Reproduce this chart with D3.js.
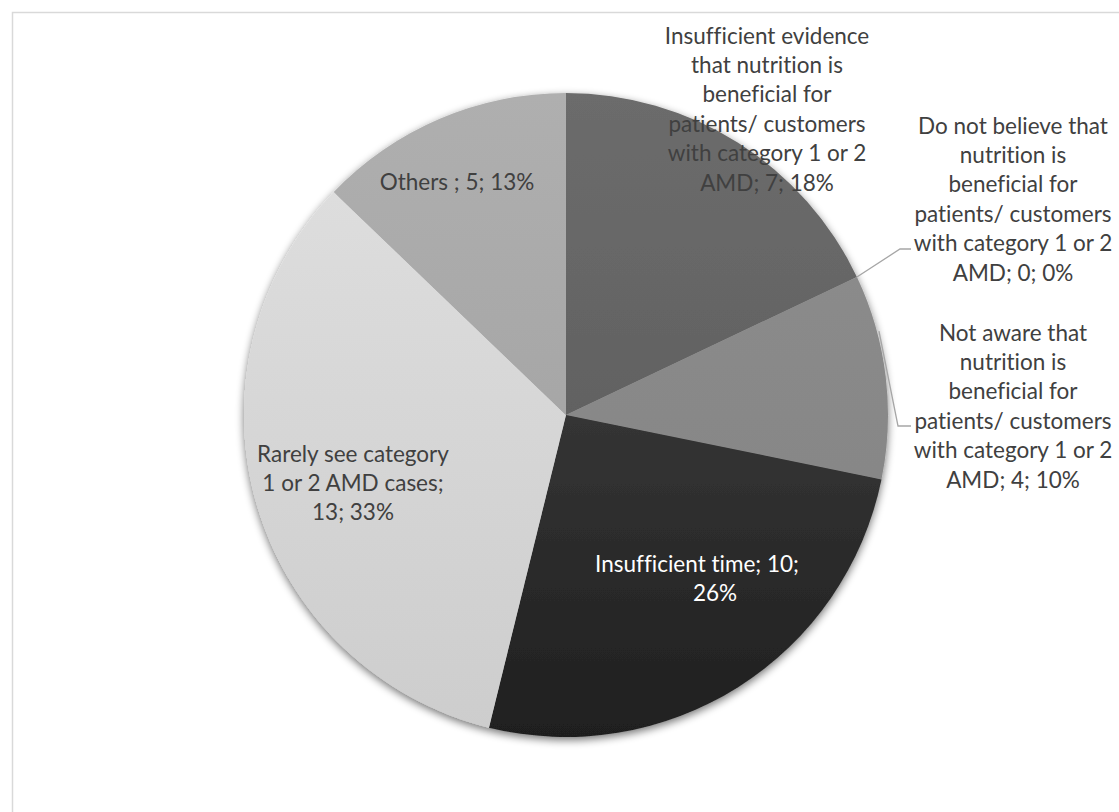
<!DOCTYPE html>
<html>
<head>
<meta charset="utf-8">
<script src="https://cdn.jsdelivr.net/npm/d3@7"></script>
<style>
  html, body { margin: 0; padding: 0; background: #fff; }
  svg { display: block; }
  text { font-variant-ligatures: none; font-feature-settings: "liga" 0, "clig" 0; }
</style>
</head>
<body>
<svg id="chart" width="1119" height="812"></svg>
<script>
// Survey responses: reasons for not giving nutrition advice (category 1 or 2 AMD)
const categories = [
  "Insufficient evidence that nutrition is beneficial for patients/ customers with category 1 or 2 AMD",
  "Do not believe that nutrition is beneficial for patients/ customers with category 1 or 2 AMD",
  "Not aware that nutrition is beneficial for patients/ customers with category 1 or 2 AMD",
  "Insufficient time",
  "Rarely see category 1 or 2 AMD cases",
  "Others "
];
const counts = [7, 0, 4, 10, 13, 5];

// Slice fills: [top, bottom] of a soft vertical gradient
const sliceColors = [
  ["#6c6c6c", "#575757"],
  ["#7a7a7a", "#6a6a6a"],
  ["#8e8e8e", "#828282"],
  ["#4a4a4a", "#1f1f1f"],
  ["#e0e0e0", "#cdcdcd"],
  ["#afafaf", "#9e9e9e"]
];

// Label layout: centre x, first-line y, words per wrapped line, optional per-line x shift
const labelLayout = [
  { x: 767, y: 35, wrap: [2, 3, 2, 2, 5, 3], fill: "#404040" },
  { x: 1013, y: 125, wrap: [4, 2, 2, 2, 5, 3], fill: "#404040" },
  { x: 1013, y: 332, wrap: [3, 2, 2, 2, 5, 3], fill: "#404040" },
  { x: 697, y: 563, wrap: [3, 1], shift: [0, 18], fill: "#ffffff" },
  { x: 353, y: 453, wrap: [3, 5, 2], fill: "#404040" },
  { x: 457, y: 181, wrap: [4], fill: "#404040" }
];

// Leader lines: angle on the rim (degrees from 12 o'clock), elbow and end points
const leaders = [
  { index: 1, angle: null, elbow: [900, 249], end: [911, 249] },
  { index: 2, angle: 75, elbow: [898, 426], end: [911, 426] }
];

const W = 1119, H = 812;
const cx = 566, cy = 415, R = 322;
const lineH = 29.4;

const svg = d3.select("#chart");
const defs = svg.append("defs");

// Chart frame
svg.append("rect")
  .attr("x", 12.5).attr("y", 12.5)
  .attr("width", W + 20).attr("height", H + 20)
  .attr("fill", "#fff")
  .attr("stroke", "#d9d9d9").attr("stroke-width", 1.5);

// Soft outer shadow for the pie
const shadow = defs.append("filter").attr("id", "pieShadow")
  .attr("x", "-10%").attr("y", "-10%").attr("width", "120%").attr("height", "120%");
shadow.append("feGaussianBlur").attr("in", "SourceAlpha").attr("stdDeviation", 4).attr("result", "blur");
shadow.append("feOffset").attr("in", "blur").attr("dx", 0).attr("dy", 3).attr("result", "off");
shadow.append("feComponentTransfer").attr("in", "off").attr("result", "shadowA")
  .append("feFuncA").attr("type", "linear").attr("slope", 0.55);
const merge = shadow.append("feMerge");
merge.append("feMergeNode").attr("in", "shadowA");
merge.append("feMergeNode").attr("in", "SourceGraphic");

// Vertical gradients, in the pie group's coordinate frame (centred on 0,0)
sliceColors.forEach((c, i) => {
  const g = defs.append("linearGradient").attr("id", "grad" + i)
    .attr("gradientUnits", "userSpaceOnUse")
    .attr("x1", 0).attr("y1", -R).attr("x2", 0).attr("y2", R);
  g.append("stop").attr("offset", "0%").attr("stop-color", c[0]);
  g.append("stop").attr("offset", "100%").attr("stop-color", c[1]);
});

const data = categories.map((name, i) => ({ name, value: counts[i], i }));
const total = d3.sum(counts);

const pie = d3.pie().value(d => d.value).sort(null);
const arcs = pie(data);
const arc = d3.arc().innerRadius(0).outerRadius(R);

const pieG = svg.append("g")
  .attr("transform", `translate(${cx},${cy})`)
  .attr("filter", "url(#pieShadow)");

pieG.selectAll("path.slice")
  .data(arcs.filter(a => a.data.value > 0))
  .join("path")
  .attr("class", "slice")
  .attr("d", arc)
  .attr("fill", d => `url(#grad${d.data.i})`);

// Leader lines
const rimPoint = (angleRad, r) => [cx + r * Math.sin(angleRad), cy - r * Math.cos(angleRad)];
leaders.forEach(l => {
  const a = arcs[l.index];
  const ang = l.angle == null ? (a.startAngle + a.endAngle) / 2 : l.angle * Math.PI / 180;
  const p0 = rimPoint(ang, l.angle == null ? R : R + 2);
  svg.append("path")
    .attr("d", d3.line()([p0, l.elbow, l.end]))
    .attr("fill", "none")
    .attr("stroke", "#a6a6a6")
    .attr("stroke-width", 1.3);
});

// Data labels: "name; value; percent"
const labelText = d => `${d.name}; ${d.value}; ${Math.round(d.value / total * 100)}%`;

data.forEach((d, i) => {
  const lay = labelLayout[i];
  const words = labelText(d).split(" ");
  const lines = [];
  let k = 0;
  lay.wrap.forEach(n => { lines.push(words.slice(k, k + n).join(" ")); k += n; });
  const t = svg.append("text")
    .attr("font-family", "Lato, 'Open Sans', sans-serif")
    .attr("font-size", 22.5)
    .attr("fill", lay.fill)
    .attr("text-anchor", "middle");
  lines.forEach((ln, j) => {
    t.append("tspan")
      .attr("x", lay.x + (lay.shift ? lay.shift[j] : 0))
      .attr("y", lay.y + j * lineH)
      .attr("dominant-baseline", "central")
      .text(ln);
  });
});
</script>
</body>
</html>
